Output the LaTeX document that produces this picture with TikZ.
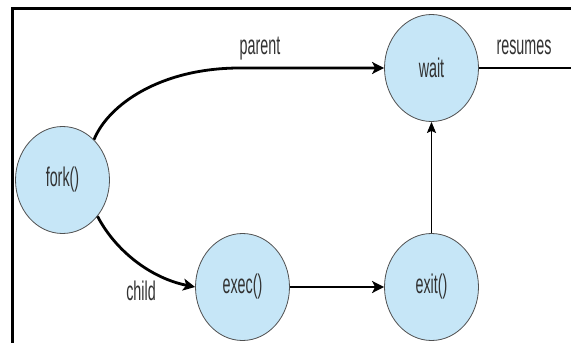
\documentclass[tikz,border=0pt]{standalone}
\usepackage{fontspec}
\setmainfont[FakeStretch=0.53]{Liberation Sans}
\usetikzlibrary{shapes.geometric,arrows.meta}
\definecolor{procfill}{RGB}{198,230,247}
\definecolor{procline}{RGB}{80,80,80}
\definecolor{labeltext}{RGB}{50,50,50}
\begin{document}
\begin{tikzpicture}[x=1pt,y=-1pt,
  proc/.style={ellipse,draw=procline,line width=0.8pt,fill=procfill,
    minimum width=94pt,minimum height=107pt,inner sep=0pt,
    text=labeltext,font=\fontsize{27}{30}\selectfont},
  lbl/.style={anchor=base,text=labeltext,font=\fontsize{27}{30}\selectfont,inner sep=0pt},
  flow/.style={line width=2.8pt,-{Stealth[length=12pt,width=12pt,inset=3pt]}},
  plain/.style={line width=2.8pt},
  thinflow/.style={line width=1.4pt,-{Stealth[length=11pt,width=9pt,inset=2pt]}}]
  \useasboundingbox (0,0) rectangle (571,343);
  \fill[white] (0,0) rectangle (571,343);

  % frame
  \draw[line width=3pt] (12.5,343) -- (12.5,8.5) -- (571,8.5);

  % processes
  \node[proc] (fork) at (62.5,180) {fork()};
  \node[proc] (wait) at (431.5,68) {wait};
  \node[proc] (exec) at (242.5,287) {exec()};
  \node[proc] (exit) at (431.5,287) {exit()};

  \coordinate (pj) at (240,68);
  \coordinate (out) at (571,68);

  % connectors
  \draw[flow] (fork.52) .. controls (108,105) and (160,68) .. (pj) -- (wait.west);
  \draw[flow] (fork.-46) .. controls (115,250) and (150,278) .. (exec.west);
  \draw[flow] (exec.east) -- (exit.west);
  \draw[thinflow] (exit.north) -- (wait.south);
  \draw[plain] (wait.east) -- (out);

  % labels
  \node[lbl] (lparent) at (260,54) {parent};
  \node[lbl] (lresumes) at (524,54) {resumes};
  \node[lbl] (lchild) at (141,300) {child};
\end{tikzpicture}
\end{document}
